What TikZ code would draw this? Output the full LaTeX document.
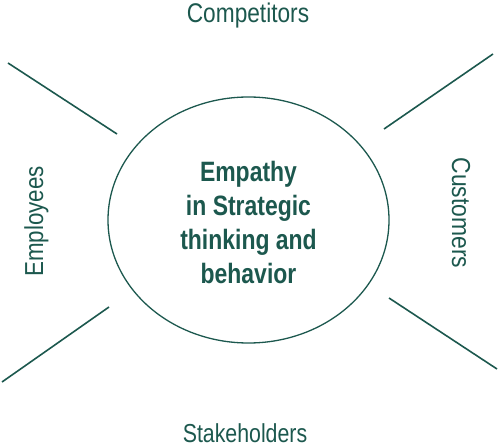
\documentclass[tikz,border=0pt]{standalone}
\usepackage{fontspec}
\setmainfont{Liberation Sans}
\usetikzlibrary{shapes.geometric}
\definecolor{teal1}{RGB}{28,88,78}
\newcommand{\narrow}[2][0.84]{\scalebox{#1}[1]{#2}}
\begin{document}
\begin{tikzpicture}[x=1pt,y=-1pt,
  lbl/.style={text=teal1,inner sep=0pt,font=\fontsize{26}{30}\selectfont,anchor=base},
  spoke/.style={draw=teal1,line width=1.6pt}]
\useasboundingbox (0,0) rectangle (500,446);
\node[draw=teal1,line width=1.3pt,ellipse,minimum width=281pt,minimum height=246pt,inner sep=0pt] (c) at (248.5,220) {};
\node[text=teal1,align=center,inner sep=0pt,font=\bfseries\fontsize{28}{34}\selectfont] (t) at (248.5,222)
  {\narrow[0.82]{Empathy}\\\narrow[0.82]{in Strategic}\\\narrow[0.82]{thinking and}\\\narrow[0.82]{behavior}};
\node[lbl,font=\fontsize{27}{30}\selectfont] (comp) at (248,23) {\narrow[0.84]{Competitors}};
\node[lbl] (stake) at (245,442) {\narrow[0.82]{Stakeholders}};
\node[lbl,rotate=90] (emp) at (43,221.5) {\narrow[0.86]{Employees}};
\node[lbl,rotate=-90] (cust) at (452,213) {\narrow[0.88]{Customers}};
\coordinate (ul1) at (8,63); \coordinate (ul2) at (117,134);
\coordinate (ur1) at (493,54); \coordinate (ur2) at (384,129);
\coordinate (ll1) at (109,307); \coordinate (ll2) at (2,382);
\coordinate (lr1) at (389,298); \coordinate (lr2) at (497,369);
\draw[spoke] (ul1) -- (ul2);
\draw[spoke] (ur1) -- (ur2);
\draw[spoke] (ll1) -- (ll2);
\draw[spoke] (lr1) -- (lr2);
\end{tikzpicture}
\end{document}
